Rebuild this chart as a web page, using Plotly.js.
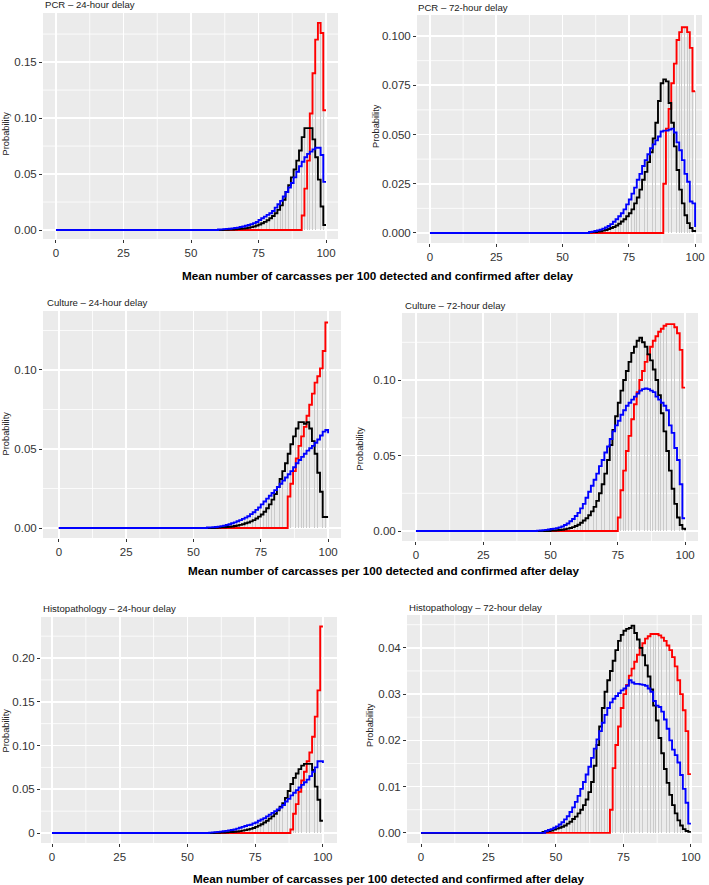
<!DOCTYPE html>
<html>
<head>
<meta charset="utf-8">
<script src="https://cdn.plot.ly/plotly-3.0.1.min.js"></script>
<style>html,body{margin:0;padding:0;background:#fff;}#chart{width:709px;height:885px;}</style>
</head>
<body>
<div id="chart"></div>
<script>
// ---------- DATA (x = mean number detected, 0..100) ----------
const panelTitles = ["PCR \u2013 24-hour delay", "PCR \u2013 72-hour delay",
  "Culture \u2013 24-hour delay", "Culture \u2013 72-hour delay",
  "Histopathology \u2013 24-hour delay", "Histopathology \u2013 72-hour delay"];
const xTickVals = [0, 25, 50, 75, 100];
const xMinorVals = [12.5, 37.5, 62.5, 87.5];
const xAxisTitle = "Mean number of carcasses per 100 detected and confirmed after delay";
const yAxisTitle = "Probability";

// PCR 24-hour
const pcr24_red_start = 90;
const pcr24_red = [0, .013, .037, .062, .104, .14, .17, .185, .176, .107, .107];
const pcr24_black_start = 60;
const pcr24_black = [.0001, .0001, .0002, .0003, .0004, .0005, .0006, .0008, .001, .0013, .0016, .002, .0026, .0032, .004, .005, .006, .0073, .0088, .0105, .0125, .015, .018, .022, .027, .034, .04, .047, .054, .062, .071, .083, .091, .091, .091, .081, .065, .045, .021, .0045, .0045];
const pcr24_blue_start = 60;
const pcr24_blue = [.0005, .0006, .0008, .001, .0012, .0015, .0018, .0022, .0027, .0032, .0038, .0045, .0053, .0062, .0072, .009, .0105, .012, .0135, .015, .017, .02, .023, .026, .03, .034, .038, .042, .047, .052, .057, .061, .065, .068, .07, .072, .0735, .0735, .067, .043, .043];

// PCR 72-hour
const pcr72_red_start = 87;
const pcr72_red = [0, .025, .053, .063, .076, .086, .098, .102, .1045, .1045, .102, .094, .072, .072];
const pcr72_black_start = 60;
const pcr72_black = [.0003, .0004, .0005, .0007, .0009, .0012, .0015, .002, .0025, .003, .0038, .0047, .0058, .007, .0085, .01, .012, .015, .018, .022, .027, .031, .036, .041, .048, .056, .067, .076, .078, .077, .066, .056, .044, .032, .022, .015, .009, .005, .0025, .001, .0005];
const pcr72_blue_start = 60;
const pcr72_blue = [.0005, .0007, .001, .0013, .0017, .0022, .0028, .0035, .0045, .0057, .007, .0085, .01, .012, .0145, .017, .02, .023, .027, .03, .034, .037, .04, .043, .045, .047, .049, .0515, .052, .052, .0525, .053, .051, .046, .042, .037, .03, .026, .016, .015, .003];

// Culture 24-hour
const cul24_red_start = 84;
const cul24_red = [0, .02, .028, .036, .044, .052, .058, .064, .071, .078, .085, .092, .096, .101, .112, .13, .13];
const cul24_black_start = 58;
const cul24_black = [.0002, .0003, .0004, .0005, .0007, .0008, .001, .0013, .0016, .002, .0024, .003, .0035, .0042, .005, .006, .0072, .0086, .0103, .0125, .015, .018, .0215, .026, .031, .036, .041, .047, .053, .058, .063, .067, .067, .066, .067, .063, .055, .047, .035, .023, .007, .007, .007];
const cul24_blue_start = 55;
const cul24_blue = [.0003, .0004, .0005, .0007, .0009, .0012, .0015, .0019, .0024, .003, .0036, .0043, .005, .0058, .0066, .0075, .0088, .01, .0115, .013, .015, .0168, .0186, .0204, .0222, .024, .026, .028, .030, .032, .034, .036, .0385, .041, .043, .045, .047, .049, .0505, .052, .054, .056, .0585, .061, .062, .06];

// Culture 72-hour
const cul72_red_start = 74;
const cul72_red = [0, .009, .027, .04, .053, .063, .074, .084, .092, .1, .106, .112, .117, .122, .126, .129, .132, .134, .136, .137, .137, .137, .135, .131, .12, .095, .095];
const cul72_black_start = 50;
const cul72_black = [.0003, .0004, .0005, .0007, .0009, .0012, .0016, .002, .0026, .0033, .0042, .0055, .007, .0085, .0105, .013, .016, .02, .025, .031, .038, .047, .057, .067, .076, .085, .093, .1, .106, .112, .118, .122, .126, .128, .125, .122, .117, .113, .107, .1, .09, .078, .066, .053, .04, .028, .018, .009, .004, .0015, .0005];
const cul72_blue_start = 45;
const cul72_blue = [.0003, .0004, .0006, .0008, .001, .0013, .0016, .0019, .0024, .003, .004, .005, .0065, .008, .01, .012, .015, .018, .022, .026, .03, .034, .038, .043, .047, .052, .056, .061, .066, .07, .073, .077, .08, .083, .085, .087, .089, .091, .093, .094, .0945, .094, .093, .092, .089, .087, .085, .083, .08, .07, .065, .055, .047, .031, .0085, .0085];

// Histopathology 24-hour
const his24_red_start = 87;
const his24_red = [0, .004, .022, .033, .047, .06, .07, .082, .092, .11, .133, .163, .236, .236];
const his24_black_start = 60;
const his24_black = [.0003, .0004, .0005, .0006, .0008, .001, .0012, .0015, .0018, .0022, .0027, .0033, .004, .0048, .0058, .007, .0085, .01, .012, .014, .0165, .019, .022, .026, .03, .034, .04, .048, .056, .063, .068, .073, .077, .079, .079, .079, .072, .053, .038, .014, .014];
const his24_blue_start = 58;
const his24_blue = [.0005, .0007, .001, .0013, .0016, .002, .0025, .003, .0035, .004, .005, .006, .007, .008, .009, .0095, .011, .012, .014, .0155, .017, .019, .021, .023, .025, .027, .029, .032, .036, .039, .043, .046, .049, .052, .055, .058, .061, .065, .07, .075, .082, .082, .08];

// Histopathology 72-hour
const his72_red_start = 69;
const his72_red = [0, .005, .014, .019, .023, .027, .03, .032, .034, .0355, .037, .0385, .04, .041, .042, .0425, .043, .043, .043, .0427, .0422, .0415, .0405, .0395, .038, .036, .033, .03, .0265, .022, .0127, .0127];
const his72_black_start = 45;
const his72_black = [.0002, .0003, .0004, .0005, .0007, .0009, .0011, .0013, .0016, .002, .0024, .003, .0035, .0042, .005, .006, .0072, .0088, .011, .0145, .019, .023, .027, .0305, .033, .035, .0372, .0395, .0415, .0428, .0437, .0441, .0443, .0448, .0432, .0418, .04, .0384, .0362, .0338, .031, .0275, .0243, .0205, .0172, .0138, .0108, .0082, .006, .0042, .0027, .0016, .0008, .0004, .0002, .0002];
const his72_blue_start = 46;
const his72_blue = [.0004, .0006, .0008, .0011, .0014, .0018, .0023, .0029, .0036, .0045, .0055, .0067, .008, .0095, .011, .0126, .0143, .0162, .0182, .0202, .022, .0238, .0255, .027, .0282, .029, .0296, .0302, .0308, .0312, .0318, .033, .0325, .0322, .0322, .0321, .032, .0318, .0312, .0305, .0285, .0275, .0272, .0262, .0245, .0225, .02, .018, .0168, .0152, .0125, .0095, .0065, .002, .002];

// y tick values/labels per panel (major) and minor grid positions
const yTicks = [
  {vals: [0, .05, .10, .15], text: ["0.00", "0.05", "0.10", "0.15"], minor: [.025, .075, .125, .175]},
  {vals: [0, .025, .05, .075, .1], text: ["0.000", "0.025", "0.050", "0.075", "0.100"], minor: [.0125, .0375, .0625, .0875]},
  {vals: [0, .05, .10], text: ["0.00", "0.05", "0.10"], minor: [.025, .075, .125]},
  {vals: [0, .05, .10], text: ["0.00", "0.05", "0.10"], minor: [.025, .075, .125]},
  {vals: [0, .05, .10, .15, .20], text: ["0", "0.05", "0.10", "0.15", "0.20"], minor: [.025, .075, .125, .175, .225]},
  {vals: [0, .01, .02, .03, .04], text: ["0.00", "0.01", "0.02", "0.03", "0.04"], minor: [.005, .015, .025, .035, .045]}
];

const panelSeries = [
  [[pcr24_red_start, pcr24_red], [pcr24_black_start, pcr24_black], [pcr24_blue_start, pcr24_blue]],
  [[pcr72_red_start, pcr72_red], [pcr72_black_start, pcr72_black], [pcr72_blue_start, pcr72_blue]],
  [[cul24_red_start, cul24_red], [cul24_black_start, cul24_black], [cul24_blue_start, cul24_blue]],
  [[cul72_red_start, cul72_red], [cul72_black_start, cul72_black], [cul72_blue_start, cul72_blue]],
  [[his24_red_start, his24_red], [his24_black_start, his24_black], [his24_blue_start, his24_blue]],
  [[his72_red_start, his72_red], [his72_black_start, his72_black], [his72_blue_start, his72_blue]]
];

// ---------- LAYOUT (pixel geometry) ----------
const W = 709, H = 885;
const seriesColors = ["#ff0000", "#000000", "#0000ff"];
const boxes = [
  {l: 43, r: 338, t: 13, b: 239, xr: [-4.81, 104.44], yr: [-0.0080, 0.1938], title: [42.7, 4.5], ylab: [5.5, 134]},
  {l: 417, r: 702, t: 15, b: 243, xr: [-4.9, 102.6], yr: [-0.0051, 0.1107], title: [416.3, 7.5], ylab: [376, 126]},
  {l: 43, r: 341, t: 311, b: 538, xr: [-5.9, 104.8], yr: [-0.0063, 0.1373], title: [45, 303], ylab: [5.5, 434]},
  {l: 402, r: 698, t: 313, b: 541, xr: [-5.2, 104.8], yr: [-0.0066, 0.1444], title: [403, 305], ylab: [359.5, 449]},
  {l: 41, r: 337, t: 617, b: 843, xr: [-4.06, 105.2], yr: [-0.0114, 0.2469], title: [40.7, 608], ylab: [5.5, 731]},
  {l: 407, r: 702, t: 615, b: 843, xr: [-5.2, 104.1], yr: [-0.0022, 0.0471], title: [407.3, 607.5], ylab: [370, 725]}
];
const xTitleRows = [[378, 275], [384, 570], [389, 878]];

const FONT = "Liberation Sans, Arial, sans-serif";
const traces = [];
const layout = {
  width: W, height: H, margin: {l: 0, r: 0, t: 0, b: 0},
  paper_bgcolor: "#ffffff", plot_bgcolor: "#ebebeb",
  showlegend: false, barmode: "overlay", bargap: 0,
  font: {family: FONT, color: "#333333"},
  annotations: [], shapes: []
};
const minorLine = {color: "#ffffff", width: 0.8};

boxes.forEach((bx, i) => {
  const n = i + 1;
  const xa = "x" + (n === 1 ? "" : n), ya = "y" + (n === 1 ? "" : n);
  const xk = "xaxis" + (n === 1 ? "" : n), yk = "yaxis" + (n === 1 ? "" : n);
  const yt = yTicks[i];
  const axCommon = {
    showgrid: true, gridcolor: "#ffffff", gridwidth: 1.6,
    zeroline: false, showline: false,
    ticks: "outside", ticklen: 3, tickwidth: 1, tickcolor: "#333333",
    tickfont: {family: FONT, size: 11.5, color: "#333333"}
  };
  layout[xk] = Object.assign({
    domain: [bx.l / W, bx.r / W], range: bx.xr, anchor: ya,
    tickmode: "array", tickvals: xTickVals, ticktext: xTickVals.map(String)
  }, axCommon);
  layout[yk] = Object.assign({
    domain: [1 - bx.b / H, 1 - bx.t / H], range: bx.yr, anchor: xa,
    tickmode: "array", tickvals: yt.vals, ticktext: yt.text
  }, axCommon);
  xMinorVals.forEach(v => layout.shapes.push({type: "line", layer: "below", xref: xa, yref: ya + " domain",
    x0: v, x1: v, y0: 0, y1: 1, line: minorLine}));
  yt.minor.filter(v => v < bx.yr[1]).forEach(v => layout.shapes.push({type: "line", layer: "below", xref: xa + " domain", yref: ya,
    x0: 0, x1: 1, y0: v, y1: v, line: minorLine}));

  const series = panelSeries[i];
  series.forEach(([start, vals]) => {
    traces.push({
      type: "bar", xaxis: xa, yaxis: ya,
      x: vals.map((v, k) => start + k), y: vals,
      width: 0.3, marker: {color: "#cbcbcb", line: {width: 0}},
      hoverinfo: "skip"
    });
  });
  series.forEach(([start, vals], s) => {
    traces.push({
      type: "scatter", mode: "lines", xaxis: xa, yaxis: ya,
      x: [0].concat(vals.map((v, k) => start + k)),
      y: [0].concat(vals),
      line: {shape: "hv", color: seriesColors[s], width: 1.9}
    });
  });
  layout.annotations.push({
    xref: "paper", yref: "paper", x: bx.title[0] / W, y: 1 - bx.title[1] / H,
    xanchor: "left", yanchor: "middle", showarrow: false,
    text: panelTitles[i], font: {family: FONT, size: 9.6, color: "#222222"}
  });
  layout.annotations.push({
    xref: "paper", yref: "paper", x: bx.ylab[0] / W, y: 1 - bx.ylab[1] / H,
    xanchor: "center", yanchor: "middle", showarrow: false, textangle: -90,
    text: yAxisTitle, font: {family: FONT, size: 9.3, color: "#222222"}
  });
});

xTitleRows.forEach(([cx, cy]) => {
  layout.annotations.push({
    xref: "paper", yref: "paper", x: cx / W, y: 1 - cy / H,
    xanchor: "center", yanchor: "middle", showarrow: false,
    text: "<b>" + xAxisTitle + "</b>", font: {family: FONT, size: 11.7, color: "#000000"}
  });
});

Plotly.newPlot("chart", traces, layout, {displayModeBar: false, staticPlot: true});
</script>
</body>
</html>
